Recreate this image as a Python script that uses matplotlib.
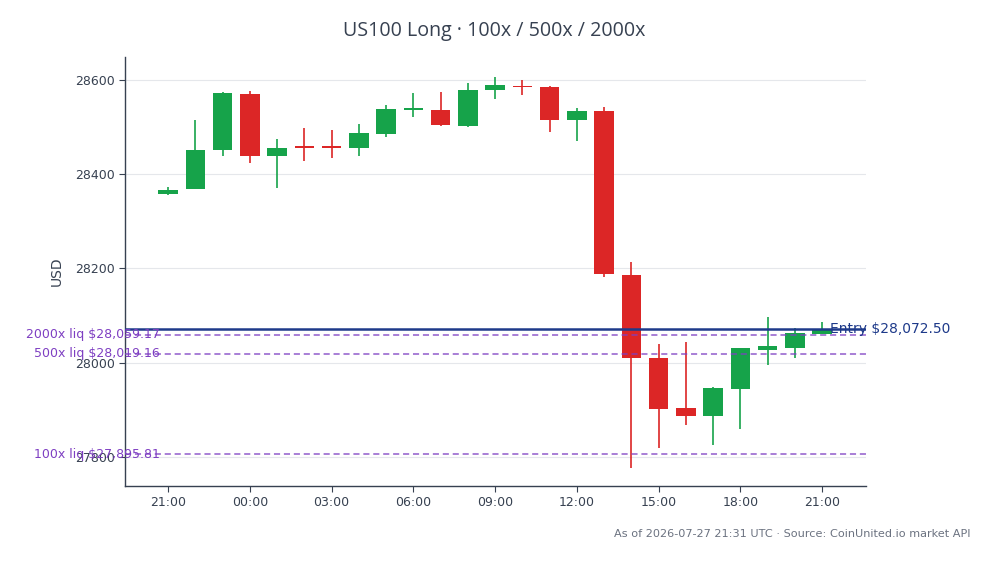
import matplotlib
matplotlib.use("Agg")
import matplotlib.pyplot as plt
import matplotlib.dates as mdates
import pandas as pd
import numpy as np

times = pd.date_range("2026-07-26 21:00", "2026-07-27 21:00", freq="h")
opens  = [28358, 28369, 28452, 28569, 28438, 28458, 28458, 28455, 28485, 28536, 28535, 28502, 28579,
          28587, 28584, 28514, 28533, 28187, 28010, 27904, 27888, 27945, 28028, 28032, 28062]
closes = [28366, 28452, 28571, 28438, 28456, 28456, 28456, 28486, 28537, 28539, 28504, 28579, 28588,
          28584, 28514, 28533, 28189, 28011, 27903, 27888, 27947, 28031, 28036, 28063, 28072]
highs  = [28372, 28514, 28573, 28576, 28475, 28498, 28493, 28505, 28546, 28572, 28573, 28593, 28605,
          28600, 28586, 28540, 28541, 28214, 28040, 28045, 27948, 28032, 28098, 28073, 28087]
lows   = [28356, 28368, 28438, 28423, 28371, 28428, 28434, 28438, 28479, 28521, 28501, 28499, 28559,
          28568, 28489, 28470, 28182, 27778, 27820, 27869, 27826, 27860, 27995, 28010, 28061]

entry = 28072.50
entry_label = "Entry $28,072.50"
liq_labels = ["2000x liq $28,059.17", "500x liq $28,019.16", "100x liq $27,895.81"]
# vertical positions of the liquidation lines as drawn in the picture
liq_levels = [28059.17, 28019.16, 27806]

title = "US100 Long · 100x / 500x / 2000x"
footer = "As of 2026-07-27 21:31 UTC · Source: CoinUnited.io market API"

GREEN = "#16a34a"
RED = "#dc2626"
TEXT = "#374151"
PURPLE = "#7e3fc2"
BLUE = "#1e3a8a"

fig = plt.figure(figsize=(9.94, 5.64), dpi=100)
ax = fig.add_axes([125/994, 1-486/564, (866-125)/994, (486-57)/564])

x = mdates.date2num(times.to_pydatetime())
w = 0.72/24
for xi, o, c, h, l in zip(x, opens, closes, highs, lows):
    col = GREEN if c >= o else RED
    ax.vlines(xi, l, h, color=col, linewidth=1.2, zorder=2)
    mid = (o + c) / 2
    height = max(abs(c - o), 4.0)
    ax.bar(xi, height, bottom=mid - height/2, width=w, color=col, zorder=3, linewidth=0)

ax.axhline(entry, color=BLUE, linewidth=1.8, zorder=4)
for v in liq_levels:
    ax.axhline(v, color=PURPLE, linewidth=1.1, linestyle=(0, (4, 2.5)), alpha=0.85, zorder=4)

hour = 1/24
ax.set_xlim(x[0] - 1.58*hour, x[-1] + 1.61*hour)
ax.set_ylim(27739, 28648)

trans_lab = matplotlib.transforms.blended_transform_factory(ax.transAxes, ax.transData)
for lab, v in zip(liq_labels, liq_levels):
    ax.text((160-125)/(866-125), v, lab, transform=trans_lab, ha="right", va="center",
            color=PURPLE, fontsize=9, zorder=5)
ax.text(x[-1] + 0.3*hour, entry, entry_label, ha="left", va="center",
        color=BLUE, fontsize=10, zorder=5, clip_on=False)

ax.xaxis.set_major_locator(mdates.HourLocator(byhour=range(0, 24, 3)))
ax.xaxis.set_major_formatter(mdates.DateFormatter("%H:%M"))
ax.set_yticks([27800, 28000, 28200, 28400, 28600])
ax.grid(axis="y", color="#e5e7eb", linewidth=0.8, zorder=0)
ax.set_axisbelow(True)
for s in ["top", "right"]:
    ax.spines[s].set_visible(False)
for s in ["left", "bottom"]:
    ax.spines[s].set_color(TEXT)
    ax.spines[s].set_linewidth(1.0)
ax.tick_params(colors=TEXT, labelsize=9, length=4)
ax.set_ylabel("USD", color=TEXT, fontsize=10, labelpad=8)

fig.text(494/994, 1-31/564, title, ha="center", va="center", fontsize=14.1,
         color=TEXT, family=["Open Sans", "DejaVu Sans"])
fig.text(970/994, 1-534/564, footer, ha="right", va="center", fontsize=8.1, color="#6b7280")

fig.savefig("out.png", dpi=100)
